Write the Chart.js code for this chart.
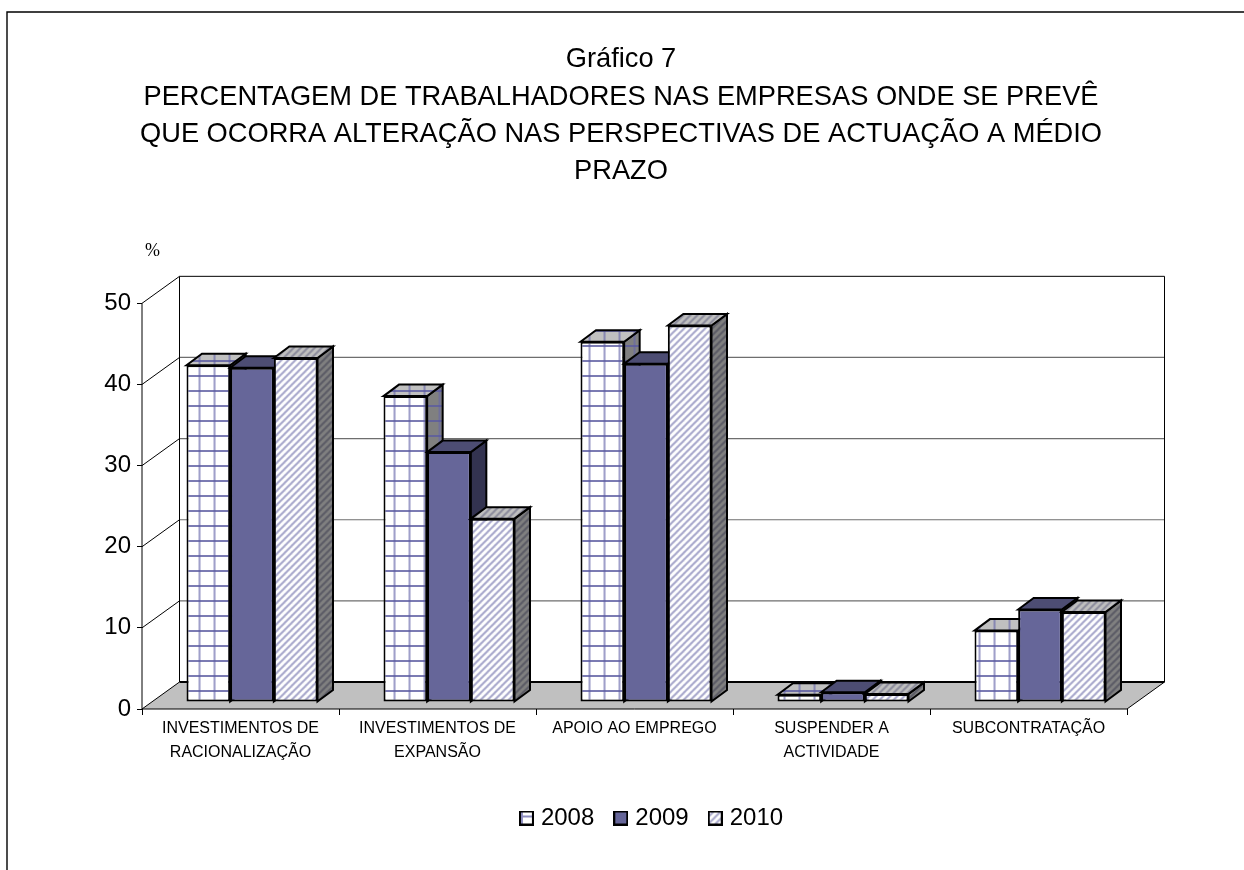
<!DOCTYPE html>
<html lang="pt">
<head>
<meta charset="utf-8">
<title>Gráfico 7</title>
<style>
html,body{margin:0;padding:0;background:#fff;}
#wrap{position:absolute;left:0;top:0;width:1244px;height:870px;}
</style>
<script src="https://cdn.jsdelivr.net/npm/chart.js@4"></script>
</head>
<body>
<div id="wrap"><canvas id="c" width="1244" height="870"></canvas></div>
<script>
const titleLines = ['Gráfico 7','PERCENTAGEM DE TRABALHADORES NAS EMPRESAS ONDE SE PREVÊ','QUE OCORRA ALTERAÇÃO NAS PERSPECTIVAS DE ACTUAÇÃO A MÉDIO','PRAZO'];
const categories = [['INVESTIMENTOS DE','RACIONALIZAÇÃO'],['INVESTIMENTOS DE','EXPANSÃO'],'APOIO AO EMPREGO',['SUSPENDER A','ACTIVIDADE'],'SUBCONTRATAÇÃO'];
const seriesNames = ['2008','2009','2010'];
const values2008 = [41.5,37.7,44.4,0.9,8.8];
const values2009 = [41.2,30.8,41.7,1.2,11.4];
const values2010 = [42.4,22.6,46.4,1.0,11.1];
const yTicks = [0,10,20,30,40,50];

const BLUE='#666699';
const wallDx=37.5, wallDy=-27;   // depth of the box
const barTx=11.5, barTy=-7;      // bars' front plane inside the box
const barDx=15.5, barDy=-11.5;   // depth of a bar

function tile(w,h,fn){const c=document.createElement('canvas');c.width=w;c.height=h;fn(c.getContext('2d'));return c;}
const ctx0=document.getElementById('c').getContext('2d');
function gridPat(base){return ctx0.createPattern(tile(15,15,g=>{
  g.fillStyle=base;g.fillRect(0,0,15,15);
  g.fillStyle='rgba(102,102,170,.62)';g.fillRect(7,0,2,15);
  g.fillStyle='rgba(90,90,160,.8)';g.fillRect(0,7,15,2);
}),'repeat');}
function diagPat(base,stroke){return ctx0.createPattern(tile(7,7,g=>{
  g.fillStyle=base;g.fillRect(0,0,7,7);
  g.strokeStyle=stroke;g.lineWidth=2;
  for(let o=-7;o<=14;o+=7){g.beginPath();g.moveTo(o-1,8);g.lineTo(o+8,-1);g.stroke();}
}),'repeat');}
const faces=[
  {front:gridPat('#ffffff'),top:gridPat('#c0c0c0'),side:gridPat('#808080')},
  {front:BLUE,top:'#4d4d73',side:'#333350'},
  {front:diagPat('#ffffff','#a8a8cc'),top:diagPat('#c0c0c0','#8c8c9c'),side:diagPat('#808080','#5c5c66')},
];
function swatch(f){return tile(15,15,g=>{g.fillStyle=f;g.fillRect(1,1,13,13);g.strokeStyle='#000';g.lineWidth=2;g.strokeRect(1,1,13,13);});}
const swatches=[
  tile(15,15,g=>{g.fillStyle='#fff';g.fillRect(1,1,13,13);g.fillStyle='#8c8cbe';g.fillRect(1,1,3,13);g.fillRect(1,5,13,2);g.strokeStyle='#000';g.lineWidth=2;g.strokeRect(1,1,13,13);}),
  swatch(BLUE),
  swatch(ctx0.createPattern(tile(7,7,g=>{g.fillStyle='#fff';g.fillRect(0,0,7,7);g.strokeStyle='#a8a8cc';g.lineWidth=2;for(let o=-7;o<=14;o+=7){g.beginPath();g.moveTo(o-1,8);g.lineTo(o+8,-1);g.stroke();}}),'repeat')),
];

function poly(ctx,pts,fill,stroke,lw){
  ctx.beginPath();pts.forEach((p,i)=>i?ctx.lineTo(p[0],p[1]):ctx.moveTo(p[0],p[1]));ctx.closePath();
  if(fill){ctx.fillStyle=fill;ctx.fill();}
  if(stroke){ctx.strokeStyle=stroke;ctx.lineWidth=lw;ctx.lineJoin='miter';ctx.stroke();}
}
function line(ctx,x1,y1,x2,y2,color,lw){ctx.beginPath();ctx.moveTo(x1,y1);ctx.lineTo(x2,y2);ctx.strokeStyle=color;ctx.lineWidth=lw;ctx.stroke();}

const box3d={
  id:'box3d',
  afterLayout(chart){
    chart.legend.left+=44;chart.legend.right+=44;
    chart.titleBlock.left+=11.5;chart.titleBlock.right+=11.5;
  },
  beforeDraw(chart){
    const {ctx}=chart,y=chart.scales.y,a=chart.chartArea;
    ctx.save();
    ctx.strokeStyle='#000';ctx.lineWidth=1.4;
    ctx.beginPath();ctx.moveTo(7,870);ctx.lineTo(7,12);ctx.lineTo(1244,12);ctx.stroke();
    const L=a.left,R=a.right,y0=y.getPixelForValue(0),yT=y.getPixelForValue(50);
    poly(ctx,[[L,y0],[L+wallDx,y0+wallDy],[R+wallDx,y0+wallDy],[R,y0]],'#c0c0c0');
    yTicks.forEach(v=>{
      const p=y.getPixelForValue(v);
      if(v>0&&v<50) line(ctx,L+wallDx,p+wallDy,R+wallDx,p+wallDy,'#6e6e6e',1.2);
      line(ctx,L,p,L+wallDx,p+wallDy,'#000',1);
    });
    line(ctx,L+wallDx,yT+wallDy,R+wallDx,yT+wallDy,'#000',1);
    line(ctx,L+wallDx,yT+wallDy,L+wallDx,y0+wallDy,'#000',1);
    line(ctx,R+wallDx,yT+wallDy,R+wallDx,y0+wallDy,'#000',1);
    line(ctx,L,yT,L,y0,'#000',1);
    line(ctx,L+wallDx,y0+wallDy,R+wallDx,y0+wallDy,'#000',1.8);
    line(ctx,L,y0,R,y0,'#000',1);
    line(ctx,R,y0,R+wallDx,y0+wallDy,'#000',1);
    ctx.fillStyle='#000';ctx.font='18px "Liberation Serif"';ctx.textAlign='left';ctx.textBaseline='alphabetic';
    ctx.fillText('%',L+3,256);
    ctx.restore();
  },
  // left-to-right painting, so each bar's front covers its left neighbour's side
  beforeDatasetsDraw(chart){
    const {ctx}=chart;
    faces.forEach((f,i)=>{
      const meta=chart.getDatasetMeta(i);
      ctx.save();
      ctx.translate(barTx,barTy);
      meta.data.forEach(b=>{
        const l=b.x-b.width/2,r=b.x+b.width/2,t=b.y,bt=b.base;
        poly(ctx,[[r,bt],[r+barDx,bt+barDy],[r+barDx,t+barDy],[r,t]],f.side,'#000',2);
        poly(ctx,[[l,t],[l+barDx,t+barDy],[r+barDx,t+barDy],[r,t]],f.top,'#000',2);
      });
      meta.controller.draw();
      ctx.restore();
    });
    return false;
  }
};

const mk=(i,vals)=>({label:seriesNames[i],data:vals,backgroundColor:faces[i].front,borderColor:'#000',borderWidth:2,borderSkipped:false,barPercentage:1,categoryPercentage:.665});

new Chart(ctx0,{
  type:'bar',
  data:{labels:categories,datasets:[mk(0,values2008),mk(1,values2009),mk(2,values2010)]},
  plugins:[box3d],
  options:{
    responsive:false,animation:false,
    layout:{padding:{left:92,right:117,top:41,bottom:30}},
    plugins:{
      tooltip:{enabled:false},
      title:{display:true,text:titleLines,color:'#000',padding:{top:0,bottom:113},
        font:{family:'"Liberation Sans"',size:27.25,weight:'normal',lineHeight:1.37}},
      legend:{position:'bottom',onClick:null,
        labels:{color:'#000',font:{family:'"Liberation Sans"',size:24},usePointStyle:true,boxWidth:5,boxHeight:5,padding:24,
          generateLabels:c=>Chart.defaults.plugins.legend.labels.generateLabels(c).map((l,i)=>({...l,pointStyle:swatches[i]}))}}
    },
    scales:{
      x:{offset:true,
        grid:{offset:true,drawOnChartArea:false,drawTicks:true,tickLength:6,color:'#000'},border:{display:false},
        ticks:{color:'#000',maxRotation:0,autoSkip:false,padding:2,font:{family:'"Liberation Sans"',size:16,lineHeight:1.5}},
        afterFit(s){s.height=73;}},
      y:{min:0,max:50,
        afterBuildTicks(s){s.ticks=yTicks.map(v=>({value:v}));},
        grid:{drawOnChartArea:false,drawTicks:true,tickLength:5,color:'#000'},border:{display:false},
        ticks:{color:'#000',padding:6,font:{family:'"Liberation Sans"',size:24}},
        afterFit(s){s.width=50;}}
    }
  }
});
</script>
</body>
</html>
